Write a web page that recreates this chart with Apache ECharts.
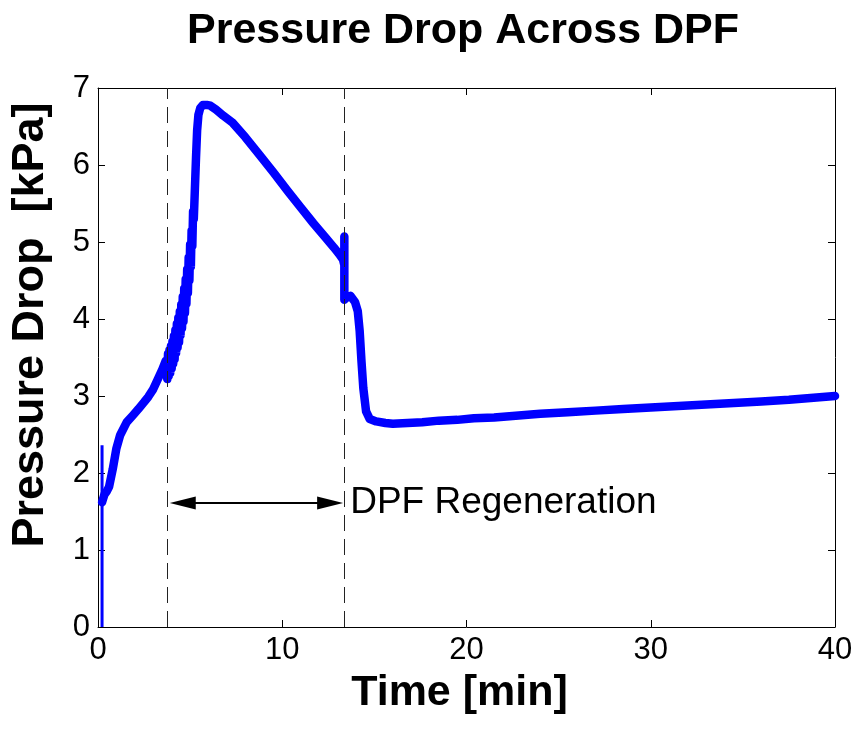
<!DOCTYPE html>
<html>
<head>
<meta charset="utf-8">
<title>Pressure Drop Across DPF</title>
<script src="https://cdn.jsdelivr.net/npm/echarts@6/dist/echarts.min.js"></script>
<style>
  html, body { margin: 0; padding: 0; background: #fff; }
  #chart { width: 855px; height: 739px; }
</style>
</head>
<body>
<div id="chart"></div>
<script>
// Start-up transient: sensor spike at t = 0.22 min [min, kPa]
const startupSpike = [[0.22, 0], [0.22, 2.36]];

// Measured pressure drop across the DPF [min, kPa]
const pressureDrop = [
  [0.22, 1.62], [0.35, 1.72], [0.47, 1.76], [0.6, 1.82], [0.8, 2.05], [1.0, 2.32],
  [1.2, 2.49], [1.56, 2.66], [1.9, 2.75], [2.19, 2.83], [2.5, 2.92], [2.73, 2.99],
  [3.0, 3.09], [3.27, 3.23], [3.5, 3.35], [3.68, 3.46],
  // oscillating section at the start of regeneration
  [3.76, 3.22], [3.80, 3.55], [3.84, 3.26], [3.88, 3.60], [3.92, 3.30], [3.96, 3.65],
  [4.00, 3.36], [4.04, 3.71], [4.08, 3.42], [4.12, 3.78], [4.16, 3.48], [4.20, 3.86],
  [4.24, 3.56], [4.28, 3.94], [4.32, 3.63], [4.36, 4.02], [4.40, 3.70], [4.44, 4.10],
  [4.48, 3.79], [4.52, 4.19], [4.56, 3.88], [4.60, 4.29], [4.64, 3.97], [4.68, 4.40],
  [4.72, 4.08], [4.76, 4.52], [4.80, 4.20], [4.84, 4.65], [4.88, 4.34], [4.92, 4.80],
  [4.96, 4.50], [5.00, 4.97], [5.04, 4.68], [5.08, 5.15], [5.12, 4.95], [5.16, 5.40],
  [5.20, 5.30],
  [5.26, 5.70], [5.32, 6.10], [5.38, 6.45], [5.45, 6.65], [5.55, 6.74], [5.7, 6.78],
  [5.9, 6.78], [6.1, 6.77], [6.4, 6.72], [6.8, 6.64], [7.3, 6.55], [8.0, 6.36],
  [8.7, 6.15], [9.5, 5.91], [10.3, 5.66], [11.0, 5.45], [11.7, 5.24], [12.3, 5.07],
  [12.8, 4.93], [13.1, 4.84], [13.3, 4.77], [13.37, 4.70], [13.37, 5.07], [13.37, 4.25],
  [13.5, 4.28], [13.7, 4.30], [13.95, 4.22], [14.1, 4.10], [14.2, 3.85], [14.3, 3.45],
  [14.4, 3.10], [14.55, 2.80], [14.75, 2.70], [15.1, 2.67], [15.6, 2.65], [16.0, 2.64],
  [16.8, 2.65], [17.6, 2.66], [18.5, 2.68], [19.5, 2.69], [20.4, 2.71], [21.5, 2.72],
  [23.0, 2.75], [24.0, 2.77], [25.5, 2.79], [27.0, 2.81], [28.5, 2.83], [30.0, 2.85],
  [31.5, 2.87], [33.0, 2.89], [34.5, 2.91], [36.0, 2.93], [37.5, 2.95], [39.0, 2.98],
  [40.0, 3.00]
];

// Regeneration window [min]
const regenStart = 3.74;
const regenEnd = 13.35;
const regenArrowY = 1.61;
const regenLabel = 'DPF Regeneration';

const xTicks = { min: 0, max: 40, interval: 10 };
const yTicks = { min: 0, max: 7, interval: 1 };

const FONT = '"Liberation Sans", Arial, Helvetica, sans-serif';

const chart = echarts.init(document.getElementById('chart'), null, { renderer: 'canvas' });

const frameAxis = (extra) => Object.assign({
  type: 'value',
  axisLine: { show: true, onZero: false, lineStyle: { color: '#000', width: 1 } },
  axisTick: { show: true, inside: true, length: 7, lineStyle: { color: '#000' } },
  splitLine: { show: false }
}, extra);

chart.setOption({
  backgroundColor: '#fff',
  animation: false,
  title: {
    text: 'Pressure Drop Across DPF',
    left: 458, top: 5, textAlign: 'center',
    textStyle: { fontFamily: FONT, fontWeight: 'bold', fontSize: 43, color: '#000' }
  },
  graphic: [{
    type: 'text',
    x: 31, y: 325, rotation: Math.PI / 2,
    style: {
      text: 'Pressure Drop  [kPa]',
      font: 'bold 45px ' + FONT,
      fill: '#000',
      align: 'center', verticalAlign: 'middle'
    }
  }],
  grid: { left: 98, right: 20, top: 88, bottom: 112, containLabel: false, outerBoundsMode: 'none' },
  xAxis: [
    frameAxis(Object.assign({}, xTicks, {
      position: 'bottom',
      name: 'Time [min]', nameLocation: 'middle', nameGap: 45,
      nameTextStyle: {
        fontFamily: FONT, fontWeight: 'bold', fontSize: 43, color: '#000',
        verticalAlign: 'top', padding: [0, 14, 0, 0]
      },
      axisLabel: { fontFamily: FONT, fontSize: 31, color: '#000', margin: 8 }
    })),
    frameAxis(Object.assign({}, xTicks, { position: 'top', axisLabel: { show: false } }))
  ],
  yAxis: [
    frameAxis(Object.assign({}, yTicks, {
      position: 'left',
      axisLabel: { fontFamily: FONT, fontSize: 31, color: '#000', margin: 8 }
    })),
    frameAxis(Object.assign({}, yTicks, { position: 'right', axisLabel: { show: false } }))
  ],
  series: [
    {
      type: 'line', name: 'spike', data: startupSpike,
      showSymbol: false, lineStyle: { color: '#0000ff', width: 3 }
    },
    {
      type: 'line', name: 'dp', data: pressureDrop,
      showSymbol: false, smooth: false,
      lineStyle: { color: '#0000ff', width: 8.5, join: 'round', cap: 'round' },
      markLine: {
        silent: true,
        symbol: 'none',
        label: { show: false },
        lineStyle: { color: '#222', width: 1, type: [16, 8] },
        data: [{ xAxis: regenStart }, { xAxis: regenEnd }]
      }
    },
    {
      type: 'line', name: 'arrow', data: [],
      markLine: {
        silent: true,
        symbol: ['triangle', 'triangle'],
        symbolSize: [13, 26],
        lineStyle: { color: '#000', width: 2, type: 'solid' },
        itemStyle: { color: '#000' },
        label: {
          show: true, position: 'end', formatter: regenLabel, distance: 20,
          fontFamily: FONT, fontSize: 37, color: '#000'
        },
        data: [[
          { coord: [regenStart + 0.86, regenArrowY] },
          { coord: [regenEnd - 0.75, regenArrowY] }
        ]]
      }
    }
  ]
});
</script>
</body>
</html>
